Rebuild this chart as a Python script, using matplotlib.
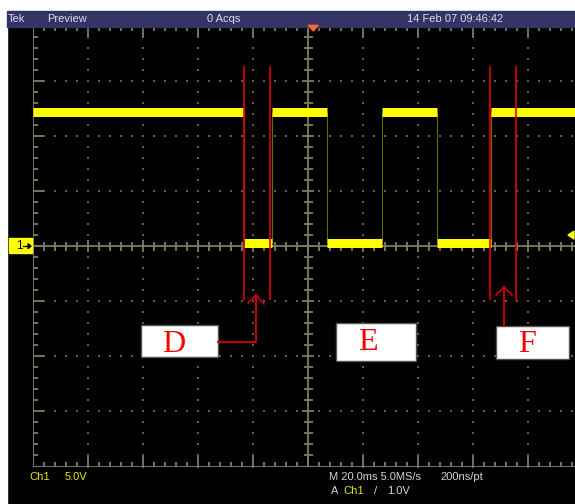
import matplotlib
matplotlib.use("Agg")
import matplotlib.pyplot as plt
from matplotlib.patches import Rectangle, Polygon
from matplotlib.transforms import Affine2D
from matplotlib.collections import LineCollection
import numpy as np

# ---- channel 1 acquisition -------------------------------------------------
# edge times in ms relative to screen centre, and the level held between edges
edge_times_ms = [-23.2, -13.1, 6.8, 26.9, 46.9, 66.5]
levels_v = [12.2, 0.3, 12.2, 0.3, 12.2, 0.3, 12.2]

# measurement cursors (ms)
cursor_times_ms = [-23.4, -13.7, 66.0, 75.6]
cursor_top_v, cursor_bottom_v = 16.3, -4.9

# scope settings
time_per_div_ms = 20.0
volts_per_div = 5.0
n_hdiv, n_vdiv = 10, 8
trigger_level_v = 1.0
sample_rate = "5.0MS/s"
record_res = "200ns/pt"

header_items = [("Tek", 8), ("Preview", 47), ("0 Acqs", 207), ("14 Feb 07 09:46:42", 407)]
box_labels = ["D", "E", "F"]

# ---- figure ----------------------------------------------------------------
W, H = 575, 504
fig = plt.figure(figsize=(W / 100, H / 100), dpi=100, facecolor="black")
PX = Affine2D().scale(1 / W, -1 / H).translate(0, 1) + fig.transFigure

UI_FONT = ["Liberation Sans Narrow", "Liberation Sans", "DejaVu Sans"]
GRAT = "#7e7e60"
DOT = "#5e5e4a"
YEL = "#ffff00"
TXT = "#d4d4d4"

fig.add_artist(Rectangle((0, 0), 7, H, transform=PX, color="white", zorder=0))
fig.add_artist(Rectangle((0, 0), W, 11, transform=PX, color="white", zorder=0))
fig.add_artist(Rectangle((7, 11), W - 7, 16, transform=PX, color="#333366", zorder=1))
for label, x in header_items:
    fig.text(x, 18.5, label, transform=PX, color="#dcdce8", fontsize=8,
             family=UI_FONT, ha="left", va="center", zorder=2)

# graticule axes: 10 x 8 divisions
gx0, gy0, gw, gh = 32.7, 25.7, 550.6, 440.8
ax = fig.add_axes([gx0 / W, 1 - (gy0 + gh) / H, gw / W, gh / H])
ax.set_facecolor("black")
ax.axis("off")
xhalf = time_per_div_ms * n_hdiv / 2
yhalf = volts_per_div * n_vdiv / 2
ax.set_xlim(-xhalf, xhalf)
ax.set_ylim(-yhalf, yhalf)

ppx = gw / (2 * xhalf)  # pixels per ms
ppy = gh / (2 * yhalf)  # pixels per V
mx = time_per_div_ms / 5
my = volts_per_div / 5

# dotted division lines
xs_div = [-xhalf + k * time_per_div_ms for k in range(1, n_hdiv) if k != n_hdiv // 2]
ys_div = [-yhalf + k * volts_per_div for k in range(1, n_vdiv) if k != n_vdiv // 2]
ygrid = np.arange(-yhalf, yhalf + 1e-9, my)
xgrid = np.arange(-xhalf, xhalf + 1e-9, mx)
dx, dy = [], []
for xv in xs_div:
    dx += [xv] * len(ygrid); dy += list(ygrid)
for yv in ys_div:
    dx += list(xgrid); dy += [yv] * len(xgrid)
ax.scatter(dx, dy, s=1.6, marker="s", color=DOT, linewidths=0, zorder=1)

# centre crosshair with ticks
ax.axhline(0, color=GRAT, lw=1.3, zorder=2)
ax.axvline(0, color=GRAT, lw=1.3, zorder=2)
segs = []
for xv in xgrid:
    major = abs((xv + xhalf) % time_per_div_ms) < 1e-6
    hl = (6 if major else 4.5) / ppy
    segs.append([(xv, -hl), (xv, hl)])
for yv in ygrid:
    major = abs((yv + yhalf) % volts_per_div) < 1e-6
    hl = (6 if major else 4.5) / ppx
    segs.append([(-hl, yv), (hl, yv)])

# frame with inward ticks
segs += [[(-xhalf, -yhalf), (-xhalf, yhalf)], [(-xhalf, yhalf), (xhalf, yhalf)],
         [(-xhalf, -yhalf), (xhalf, -yhalf)], [(xhalf, -yhalf), (xhalf, yhalf)]]
for xv in xgrid:
    major = abs((xv + xhalf) % time_per_div_ms) < 1e-6
    L = (11 if major else 5) / ppy
    segs.append([(xv, yhalf), (xv, yhalf - L)])
    segs.append([(xv, -yhalf), (xv, -yhalf + L)])
for yv in ygrid:
    major = abs((yv + yhalf) % volts_per_div) < 1e-6
    L = (11 if major else 5) / ppx
    segs.append([(-xhalf, yv), (-xhalf + L, yv)])
ax.add_collection(LineCollection(segs, colors=GRAT, linewidths=1.3, zorder=2))

# ---- trace -------------------------------------------------------------------
bounds = [-xhalf] + edge_times_ms + [xhalf]
flat = [[(bounds[i], levels_v[i]), (bounds[i + 1], levels_v[i])] for i in range(len(levels_v))]
edges = [[(t, levels_v[i]), (t, levels_v[i + 1])] for i, t in enumerate(edge_times_ms)]
ax.add_collection(LineCollection(edges, colors="#6a6a00", linewidths=0.8, zorder=3))
ax.add_collection(LineCollection(flat, colors=YEL, linewidths=6.5, capstyle="butt", zorder=4))

# cursors
ax.vlines(cursor_times_ms, cursor_bottom_v, cursor_top_v, colors="#e60000", lw=1.2, zorder=5)

# trigger markers
fig.add_artist(Polygon([(308.3, 25.3), (318.3, 25.3), (313.3, 31)], closed=True,
                       transform=PX, color="#ff6633", zorder=6))
ytrig = gy0 + gh / 2 - trigger_level_v * ppy
fig.add_artist(Polygon([(568, ytrig), (574, ytrig - 4), (574, ytrig + 4)], closed=True,
                       transform=PX, color=YEL, zorder=6))

# channel 1 ground marker
yc = gy0 + gh / 2
fig.add_artist(Rectangle((9, yc - 8), 23, 15, transform=PX, color=YEL, zorder=6))
fig.text(19.5, yc, "1", transform=PX, color="black", fontsize=8.5, family=UI_FONT,
         ha="center", va="center", zorder=7)
fig.add_artist(plt.Line2D([23, 29], [yc, yc], transform=PX, color="black", lw=0.9, zorder=7))
fig.add_artist(Polygon([(31, yc), (28, yc - 2.5), (28, yc + 2.5)], closed=True,
                       transform=PX, color="black", zorder=7))

# ---- annotation boxes and arrows -----------------------------------------------
boxes = [(141, 325, 77, 32), (336, 323, 80, 38), (496, 326, 73, 33)]
letter_pos = [(174, 351.5), (368, 349.5), (527, 351.5)]
for (bx, by, bw, bh), (lx, ly), lab in zip(boxes, letter_pos, box_labels):
    fig.add_artist(Rectangle((bx, by), bw, bh, transform=PX, facecolor="white",
                             edgecolor="#555555", lw=1.0, zorder=8))
    fig.text(lx, ly, lab, transform=PX, color="#ff0000", fontsize=23,
             family=["Liberation Serif", "DejaVu Serif"], ha="center", va="baseline", zorder=9)

ARROW = "#cc0000"
fig.add_artist(plt.Line2D([218, 256, 256], [342, 342, 295], transform=PX, color=ARROW, lw=1.4, zorder=8))
fig.add_artist(plt.Line2D([248, 256, 264], [303, 295, 304], transform=PX, color=ARROW, lw=1.2, zorder=8))
fig.add_artist(plt.Line2D([504, 504], [326, 287], transform=PX, color=ARROW, lw=1.4, zorder=8))
fig.add_artist(plt.Line2D([496, 504, 512], [295, 287, 295], transform=PX, color=ARROW, lw=1.2, zorder=8))

# ---- status line -------------------------------------------------------------
def status(x, y, s, c):
    fig.text(x, y, s, transform=PX, color=c, fontsize=8, family=UI_FONT,
             ha="left", va="center", zorder=6)

status(29, 477, "Ch1", "#e6e600")
status(65, 477, f"{volts_per_div:.1f}V", "#e6e600")
status(329, 477, f"M {time_per_div_ms:.1f}ms {sample_rate}", TXT)
status(440, 477, record_res, TXT)
status(331, 491, "A", TXT)
status(343, 491, "Ch1", "#e6e600")
status(374, 491, "/", TXT)
status(387, 491, f"{trigger_level_v:.1f}V", TXT)

fig.savefig("out.png", dpi=100, facecolor="black")
